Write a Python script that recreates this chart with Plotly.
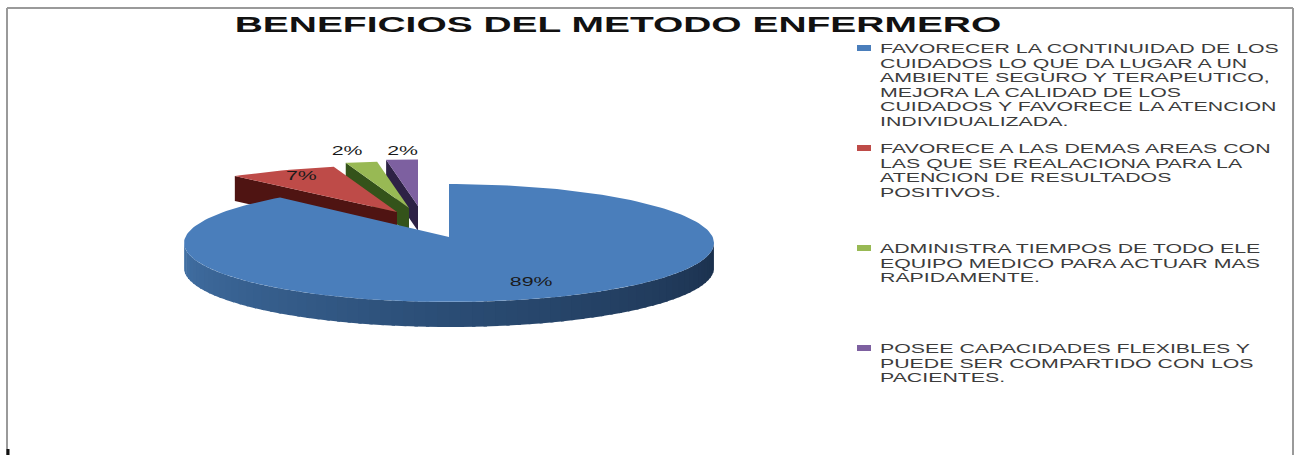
import math
import plotly.graph_objects as go

TITLE = "BENEFICIOS DEL METODO ENFERMERO"
values = [89, 7, 2, 2]
labels = ["89%", "7%", "2%", "2%"]
category_lines = [
    ["FAVORECER LA CONTINUIDAD DE LOS", "CUIDADOS LO QUE DA LUGAR A UN",
     "AMBIENTE SEGURO Y TERAPEUTICO,", "MEJORA LA CALIDAD DE LOS",
     "CUIDADOS Y FAVORECE LA ATENCION", "INDIVIDUALIZADA."],
    ["FAVORECE A LAS DEMAS AREAS CON", "LAS QUE SE REALACIONA PARA LA",
     "ATENCION DE RESULTADOS", "POSITIVOS."],
    ["ADMINISTRA TIEMPOS DE TODO ELE", "EQUIPO MEDICO PARA ACTUAR MAS",
     "RAPIDAMENTE."],
    ["POSEE CAPACIDADES FLEXIBLES Y", "PUEDE SER COMPARTIDO CON LOS",
     "PACIENTES."],
]
top_colors = ["#4A7EBB", "#BE4B48", "#98B954", "#7D60A0"]
wall_colors = ["#2C4D75", "#4F1412", "#34531A", "#2D2245"]

# layout of the flattened pie, in the pixel space of the axes
RX, RY, DEPTH = 265, 59, 25
SMALL_RX, SMALL_RY = 0.96, 0.79
APEX = [(449, 243), (397, 212), (409, 208), (418, 206)]
LABEL_FACTOR = [(0.916, 0.685), (0.795, 0.706), (1.245, 1.0), (0.92, 0.95)]
LEGEND_TOP = [48, 148, 248, 348]
LINE_PITCH = 14.5
LEGEND_X = 880
SWATCH_X = 864
TEXT_DY = 2
STRETCH_TEXT = 1.64
STRETCH_TITLE = 1.77


def point(apex, theta, dy=0, sx=1.0, sy=1.0):
    rad = math.radians(theta)
    return apex[0] + RX * sx * math.sin(rad), apex[1] - RY * sy * math.cos(rad) + dy


def mix(c1, c2, t):
    return "rgb(%d,%d,%d)" % tuple(c1[i] + (c2[i] - c1[i]) * t for i in range(3))


def poly(pts, color):
    return go.Scatter(x=[p[0] for p in pts], y=[p[1] for p in pts], mode="lines",
                      fill="toself", fillcolor=color, line=dict(width=0, color=color),
                      hoverinfo="skip", showlegend=False)


total = sum(values)
spans, start = [], 0.0
for v in values:
    spans.append((start, start + 360.0 * v / total))
    start += 360.0 * v / total

fig = go.Figure()

# exploded small slices, back to front, each with its cut wall then its top
for i in (3, 2, 1):
    a0, a1 = spans[i]
    A = APEX[i]
    P = point(A, a0, 0, SMALL_RX, SMALL_RY)
    fig.add_trace(poly([P, A, (A[0], A[1] + DEPTH), (P[0], P[1] + DEPTH)], wall_colors[i]))
    n = 12
    arc = [point(A, a0 + (a1 - a0) * k / n, 0, SMALL_RX, SMALL_RY) for k in range(n + 1)]
    fig.add_trace(poly([A] + arc, top_colors[i]))

# rim of the large slice, shaded left to right
A = APEX[0]
steps = 72
left, mid, right = (66, 113, 165), (43, 77, 117), (27, 48, 76)
for k in range(steps):
    t0 = 270 - 180 * k / steps
    t1 = 270 - 180 * (k + 1.3) / steps
    f = k / (steps - 1)
    col = mix(left, mid, f * 2) if f < 0.5 else mix(mid, right, (f - 0.5) * 2)
    fig.add_trace(poly([point(A, t0), point(A, t1), point(A, t1, DEPTH), point(A, t0, DEPTH)], col))

# top of the large slice
a0, a1 = spans[0]
n = 200
arc = [point(A, a0 + (a1 - a0) * k / n) for k in range(n + 1)]
fig.add_trace(poly([(A[0], A[1] - 6)] + arc, top_colors[0]))

# value labels
lx, ly = [], []
for i, (a0, a1) in enumerate(spans):
    m = math.radians((a0 + a1) / 2)
    lx.append(APEX[i][0] + RX * math.sin(m) * LABEL_FACTOR[i][0])
    ly.append(APEX[i][1] - RY * math.cos(m) * LABEL_FACTOR[i][1] + TEXT_DY)
fig.add_trace(go.Scatter(x=lx, y=ly, text=labels, mode="text", textposition="middle center",
                         textfont=dict(family="Liberation Sans", size=13, color="#1a1a1a"),
                         hoverinfo="skip", showlegend=False))

# legend
for i, lines in enumerate(category_lines):
    fig.add_trace(go.Scatter(x=[SWATCH_X - 7, SWATCH_X + 7, SWATCH_X + 7, SWATCH_X - 7],
                             y=[LEGEND_TOP[i] - 3, LEGEND_TOP[i] - 3, LEGEND_TOP[i] + 3, LEGEND_TOP[i] + 3],
                             mode="lines", fill="toself", fillcolor=top_colors[i],
                             line=dict(width=0), hoverinfo="skip", showlegend=False))
    fig.add_trace(go.Scatter(x=[LEGEND_X] * len(lines),
                             y=[LEGEND_TOP[i] + LINE_PITCH * j + TEXT_DY for j in range(len(lines))],
                             text=lines, mode="text", textposition="middle right",
                             textfont=dict(family="Liberation Sans", size=13, color="#3c3c3c"),
                             hoverinfo="skip", showlegend=False))

fig.update_layout(
    width=1302, height=455, margin=dict(l=0, r=0, t=0, b=0),
    paper_bgcolor="white", plot_bgcolor="white",
    title=dict(text="<b>%s</b>" % TITLE, x=618 / 1302, y=1 - 24 / 455, xanchor="center", yanchor="middle",
               font=dict(family="Liberation Sans", size=22, color="#111111")),
    xaxis=dict(range=[0, 1302], visible=False, fixedrange=True),
    yaxis=dict(range=[455, 0], visible=False, fixedrange=True),
    shapes=[
        dict(type="line", x0=7, x1=7, y0=8, y1=455, line=dict(color="#9a9a9a", width=2)),
        dict(type="line", x0=7, x1=1293, y0=8, y1=8, line=dict(color="#9a9a9a", width=2)),
        dict(type="line", x0=1293, x1=1293, y0=8, y1=455, line=dict(color="#9a9a9a", width=2)),
        dict(type="line", x0=8, x1=8, y0=449, y1=455, line=dict(color="#111111", width=3)),
    ],
)

post = """
document.body.style.margin = '0';
document.body.style.overflow = 'hidden';
var gd = document.getElementById('{plot_id}');
function stretch() {
  gd.querySelectorAll('.textpoint text, .gtitle').forEach(function (t) {
    var k = t.classList.contains('gtitle') ? %s : %s;
    t.removeAttribute('textLength');
    var w = t.getComputedTextLength();
    t.setAttribute('lengthAdjust', 'spacingAndGlyphs');
    t.setAttribute('textLength', w * k);
  });
}
stretch();
gd.on('plotly_afterplot', stretch);
""" % (STRETCH_TITLE, STRETCH_TEXT)

fig.write_html("out.html", post_script=post, config=dict(displayModeBar=False))
